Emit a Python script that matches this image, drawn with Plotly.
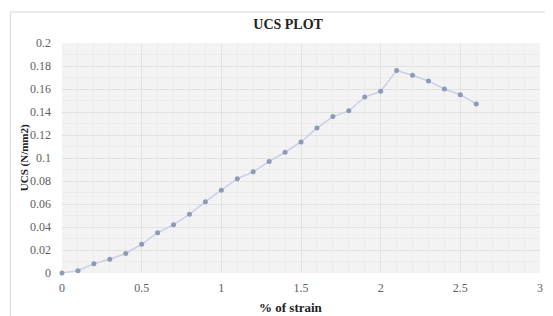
import plotly.graph_objects as go

strain = [0, 0.1, 0.2, 0.3, 0.4, 0.5, 0.6, 0.7, 0.8, 0.9, 1.0, 1.1, 1.2, 1.3,
          1.4, 1.5, 1.6, 1.7, 1.8, 1.9, 2.0, 2.1, 2.2, 2.3, 2.4, 2.5, 2.6]
ucs = [0.0, 0.002, 0.008, 0.012, 0.017, 0.025, 0.035, 0.042, 0.051, 0.062, 0.072,
       0.082, 0.088, 0.097, 0.105, 0.114, 0.126, 0.136, 0.141, 0.153, 0.158,
       0.176, 0.172, 0.167, 0.160, 0.155, 0.147]
x_ticks = [0, 0.5, 1, 1.5, 2, 2.5, 3]
y_ticks = [0, 0.02, 0.04, 0.06, 0.08, 0.1, 0.12, 0.14, 0.16, 0.18, 0.2]

fig = go.Figure()
fig.add_trace(go.Scatter(
    x=strain, y=ucs, mode="lines+markers",
    line=dict(color="#c9d0e8", width=1.5),
    marker=dict(color="#8f99b8", size=5),
    showlegend=False, cliponaxis=False,
))

serif = "Liberation Serif, Times New Roman, serif"
# page has a default 8px body margin, so the figure is sized 8px smaller
fig.update_layout(
    width=545, height=308,
    margin=dict(l=54, r=10, t=35, b=43),
    paper_bgcolor="white", plot_bgcolor="#f3f3f3",
    font=dict(family=serif, color="#606060", size=12),
    title=dict(text="<b>UCS PLOT</b>", x=0.514, xanchor="center", y=0.948, yanchor="middle",
               font=dict(family=serif, size=14, color="#222222")),
    xaxis=dict(range=[0, 3], tickvals=x_ticks, ticktext=[str(v) for v in x_ticks],
               showgrid=True, gridcolor="#e2e2e2", gridwidth=1, zeroline=False,
               showline=False, ticks="", tickfont=dict(size=12), ticklabelstandoff=6,
               ticklabeloverflow="allow",
               minor=dict(dtick=0.1, showgrid=True, gridcolor="#ececec", gridwidth=1)),
    yaxis=dict(range=[0, 0.2], tickvals=y_ticks, ticktext=[f"{v:g}" for v in y_ticks],
               showgrid=True, gridcolor="#e2e2e2", gridwidth=1, zeroline=False,
               showline=False, ticks="", tickfont=dict(size=12), ticklabelstandoff=10,
               minor=dict(dtick=0.01, showgrid=True, gridcolor="#ececec", gridwidth=1)),
    annotations=[
        dict(text="<b>% of strain</b>", xref="paper", yref="paper", x=0.48, y=-0.148,
             xanchor="center", yanchor="middle", showarrow=False,
             font=dict(family=serif, size=13, color="#222222")),
        dict(text="<b>UCS (N/mm2)</b>", xref="paper", yref="paper", x=(24 - 62) / 481, y=0.5,
             xanchor="center", yanchor="middle", showarrow=False, textangle=-90,
             font=dict(family=serif, size=11, color="#222222")),
    ],
    shapes=[dict(type="rect", xref="paper", yref="paper", x0=-0.108, x1=1.05, y0=-0.3, y1=1.135,
                 line=dict(color="#d9d9d9", width=1), fillcolor="rgba(0,0,0,0)", layer="below")],
)
fig.write_html("out.html")
